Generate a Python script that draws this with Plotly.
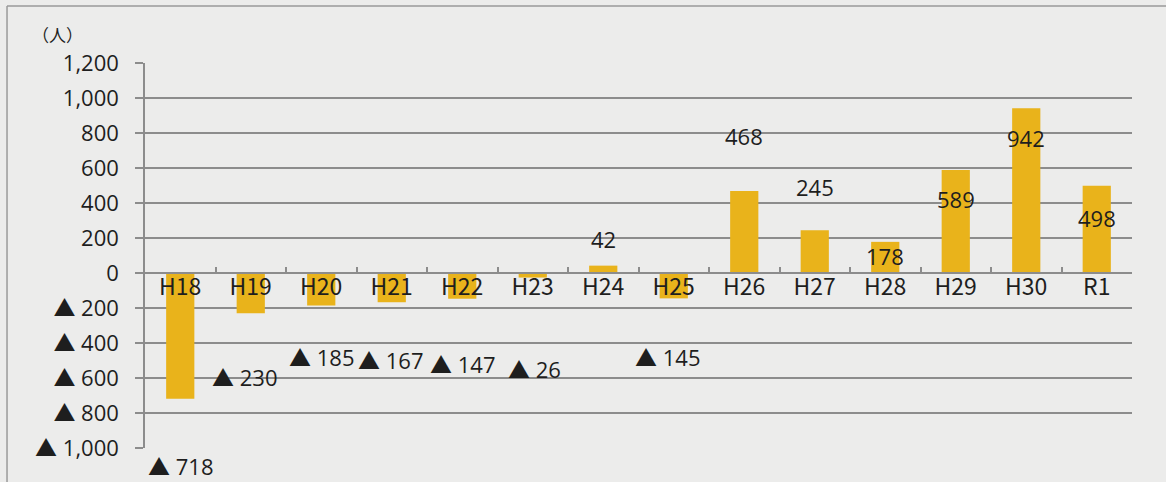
import plotly.graph_objects as go

categories = ["H18", "H19", "H20", "H21", "H22", "H23", "H24", "H25",
              "H26", "H27", "H28", "H29", "H30", "R1"]
values = [-718, -230, -185, -167, -147, -26, 42, -145,
          468, 245, 178, 589, 942, 498]
tick_vals = [1200, 1000, 800, 600, 400, 200, 0, -200, -400, -600, -800, -1000]
tick_numbers = ["1,200", "1,000", "800", "600", "400", "200", "0",
                "200", "400", "600", "800", "1,000"]
unit_label = "（人）"

# label placement (layout only) mimicking the original chart
label_y = [-1000, -586, -477, -494, -517, -540, 195, -477, 782, 489, 100, 425, 770, 316]
label_yshift = [-17, 0, 0, 0, 0, 0, 0, 0, 0, 0, 0, 0, 0, 0]
label_xshift = [0, -6, 0, -1, 0, 2, 0, -6, 0, 0, 0, 0, 0, 0]

BAR = "#E9B31B"
GRID = "#8c8c8c"
TXT = "#1e1e1e"
BG = "#ececeb"
TRI = '<span style="font-family:\'Noto Sans CJK JP\';font-size:22px">▲</span>'
SP = "\u00a0"
NUMFONT = "Open Sans"

tick_text = [(TRI + SP + t) if v < 0 else t for v, t in zip(tick_vals, tick_numbers)]

fig = go.Figure()
fig.add_trace(go.Bar(x=categories, y=values, marker_color=BAR,
                     marker_line_width=0, width=0.4, hoverinfo="skip"))

for c, v, ly, ys, xs in zip(categories, values, label_y, label_yshift, label_xshift):
    txt = f"{TRI}{SP}{abs(v)}" if v < 0 else f"{v}"
    fig.add_annotation(x=c, y=ly, text=txt, showarrow=False, xshift=xs, yshift=ys,
                       font=dict(family=NUMFONT, size=22, color=TXT))

fig.add_annotation(x=-0.089, y=1.0, xref="paper", yref="paper", yanchor="bottom",
                   xanchor="center", text=unit_label, showarrow=False, yshift=14,
                   font=dict(family="Noto Sans CJK JP", size=17, color=TXT))

# outer frame (left & top)
fig.add_shape(type="line", xref="paper", yref="paper", x0=-0.1398, x1=-0.1398,
              y0=-0.2, y1=1.148, line=dict(color="#9a9a9a", width=1.5))
fig.add_shape(type="line", xref="paper", yref="paper", x0=-0.1398, x1=1.05,
              y0=1.148, y1=1.148, line=dict(color="#9a9a9a", width=1.5))

fig.update_layout(
    width=1166, height=482,
    margin=dict(l=145, r=34, t=63, b=34),
    paper_bgcolor=BG, plot_bgcolor=BG,
    showlegend=False,
    bargap=0.6,
    xaxis=dict(type="category", anchor="free", position=1000 / 2200,
               showline=True, linecolor=GRID, linewidth=1.5,
               ticks="inside", tickson="boundaries", ticklen=5,
               tickcolor=GRID, tickwidth=1.5, ticklabelstandoff=-6,
               tickfont=dict(family="Noto Sans CJK JP", size=23, color=TXT),
               showgrid=False, zeroline=False, fixedrange=True),
    yaxis=dict(range=[-1000, 1200], tickvals=tick_vals, ticktext=tick_text,
               showgrid=True, gridcolor=GRID, gridwidth=1.5,
               showline=True, linecolor=GRID, linewidth=1.5,
               ticks="outside", ticklen=8, tickcolor=GRID, tickwidth=1.5,
               ticklabelstandoff=12,
               tickfont=dict(family=NUMFONT, size=22, color=TXT),
               zeroline=False, fixedrange=True),
)

fig.write_html("out.html")
